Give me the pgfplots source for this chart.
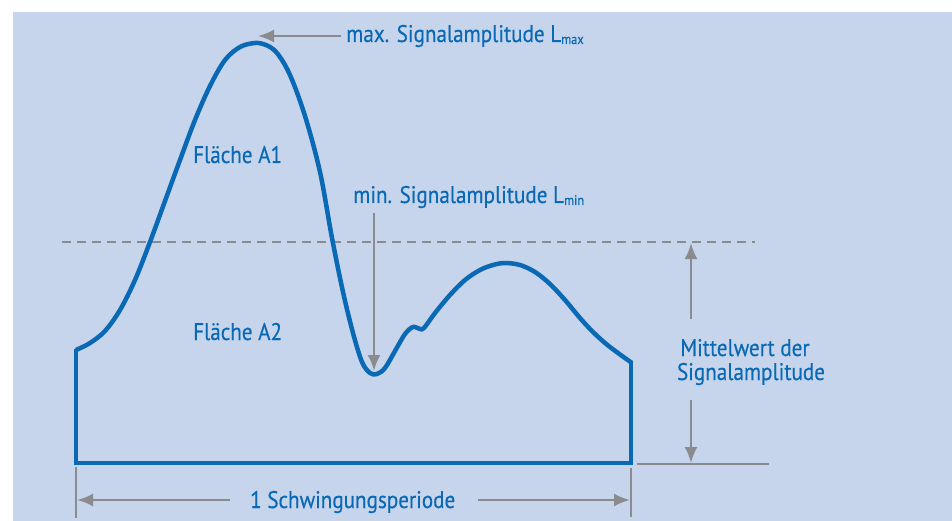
\documentclass[border=0pt]{standalone}
\usepackage{pgfplots}
\pgfplotsset{compat=1.18}
\usepackage{fontspec}
\setmainfont{PT Sans}[FakeStretch=0.88, FakeBold=0.4]
\usetikzlibrary{arrows.meta}
\definecolor{bg}{HTML}{C6D5EB}
\definecolor{cblue}{HTML}{0A69B4}
\definecolor{agray}{HTML}{8A8B8E}
\begin{document}
\begin{tikzpicture}
\begin{axis}[scale only axis, width=952pt, height=521pt, xmin=0, xmax=952, ymin=0, ymax=521,
  y dir=reverse, hide axis, clip=false]
\fill[white] (axis cs:0,0) rectangle (axis cs:952,521);
\fill[bg] (axis cs:13,12) rectangle (axis cs:952,521);
% dashed mean line
\draw[agray, line width=2.5pt, dash pattern=on 9pt off 6pt] (axis cs:62,242) -- (axis cs:755,242);
% signal curve
\addplot[cblue, line width=4.5pt, smooth, tension=0.55, line join=round] coordinates {
(76,350) (90,343) (105,331) (120,310) (135,280) (150,242) (165,201) (180,160) (195,120) (210,86) (225,60) (240,47) (255,43) (266,45) (277,53) (290,75) (305,116) (320,172) (332,238) (343,292) (353,333) (362,362) (370,373) (377,374) (385,368) (395,351) (405,334) (413,327) (420,329) (424,328) (435,313) (450,295) (465,280) (480,270) (493,265) (505,263) (520,265) (535,272) (550,284) (565,300) (580,318) (592,331) (605,343) (618,353) (632,363)
};
\addplot[cblue, line width=4.5pt, line join=miter] coordinates {
(76,349) (76,463) (631,463) (631,362)
};
% max arrow
\draw[agray, line width=2.5pt, -{Latex[length=16pt,width=13pt]}] (axis cs:341,36) -- (axis cs:258,36);
\node[anchor=base west, text=cblue, font=\fontsize{24}{26}\selectfont, inner sep=0pt] at (axis cs:346,42) {max. Signalamplitude L\raisebox{-2pt}{\fontsize{14}{14}\selectfont max}};
% min arrow
\draw[agray, line width=2.5pt, -{Latex[length=16pt,width=13pt]}] (axis cs:374,213) -- (axis cs:374,371);
\node[anchor=base west, text=cblue, font=\fontsize{24}{26}\selectfont, inner sep=0pt] at (axis cs:353,203) {min. Signalamplitude L\raisebox{-2pt}{\fontsize{14}{14}\selectfont min}};
% areas
\node[anchor=base west, text=cblue, font=\fontsize{24}{26}\selectfont, inner sep=0pt] at (axis cs:193,163) {Fläche A1};
\node[anchor=base west, text=cblue, font=\fontsize{24}{26}\selectfont, inner sep=0pt] at (axis cs:193,340) {Fläche A2};
% mean value annotation
\draw[agray, line width=2.5pt, -{Latex[length=16pt,width=13pt]}] (axis cs:691,319) -- (axis cs:691,243);
\draw[agray, line width=2.5pt, -{Latex[length=16pt,width=13pt]}] (axis cs:691,400) -- (axis cs:691,463);
\draw[agray, line width=2.5pt] (axis cs:637,464) -- (axis cs:769,464);
\node[anchor=base, text=cblue, font=\fontsize{24}{26}\selectfont, inner sep=0pt] at (axis cs:745,356) {Mittelwert der};
\node[anchor=base, text=cblue, font=\fontsize{24}{26}\selectfont, inner sep=0pt] at (axis cs:751,380) {Signalamplitude};
% period
\draw[agray, line width=2.5pt] (axis cs:76,467) -- (axis cs:76,518);
\draw[agray, line width=2.5pt] (axis cs:631,468) -- (axis cs:631,517);
\draw[agray, line width=2.5pt, -{Latex[length=16pt,width=13pt]}] (axis cs:230,500) -- (axis cs:77,500);
\draw[agray, line width=2.5pt, -{Latex[length=16pt,width=13pt]}] (axis cs:478,500) -- (axis cs:630,500);
\node[anchor=base west, text=cblue, font=\fontsize{24}{26}\selectfont, inner sep=0pt] at (axis cs:250,508) {1 Schwingungsperiode};
\end{axis}
\end{tikzpicture}
\end{document}
